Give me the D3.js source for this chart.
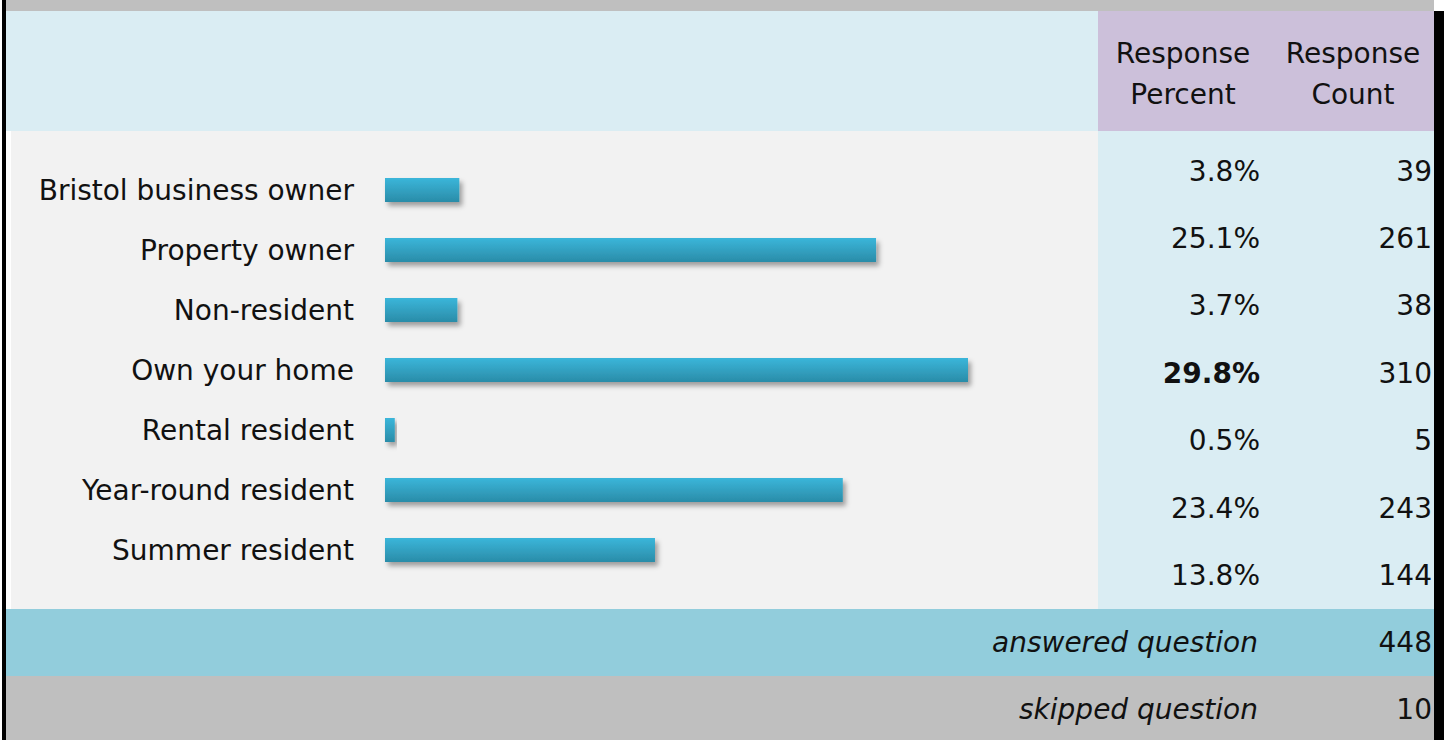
<!DOCTYPE html>
<html>
<head>
<meta charset="utf-8">
<script src="https://cdn.jsdelivr.net/npm/d3@7"></script>
<style>
  body { margin: 0; background: #fff; }
  svg text { font-family: "DejaVu Sans", sans-serif; fill: #111; }
</style>
</head>
<body>
<div id="chart"></div>
<script>
// Data
const categories = ['Bristol business owner', 'Property owner', 'Non-resident',
  'Own your home', 'Rental resident', 'Year-round resident', 'Summer resident'];
const percents = [3.8, 25.1, 3.7, 29.8, 0.5, 23.4, 13.8];
const counts = [39, 261, 38, 310, 5, 243, 144];
const headers = [['Response', 'Percent'], ['Response', 'Count']];
const answered = 448;
const skipped = 10;

// Dimensions
const width = 1450;
const height = 740;
const fontSize = 28;

const svg = d3.select('#chart')
  .append('svg')
    .attr('width', width)
    .attr('height', height)

// Defs: gradient + shadow
const defs = svg.append('defs');
const grad = defs.append('linearGradient')
  .attr('id', 'barGrad')
  .attr('x1', 0).attr('y1', 0).attr('x2', 0).attr('y2', 1)
grad.append('stop').attr('offset', '0%').attr('stop-color', '#3bb6da')
grad.append('stop').attr('offset', '100%').attr('stop-color', '#2a8ca8')
const shadow = defs.append('filter')
  .attr('id', 'shadow')
  .attr('x', '-10%').attr('y', '-30%').attr('width', '130%').attr('height', '200%')
shadow.append('feDropShadow')
  .attr('dx', 3).attr('dy', 4)
  .attr('stdDeviation', 2.5)
  .attr('flood-color', '#000')
  .attr('flood-opacity', 0.35)

// Background panels
const bg = svg.append('g');
bg.append('rect').attr('x', 2).attr('y', 0).attr('width', 1432).attr('height', 11).attr('fill', '#bfbfbf')
bg.append('rect').attr('x', 6).attr('y', 11).attr('width', 1092).attr('height', 120).attr('fill', '#daedf3')
bg.append('rect').attr('x', 1098).attr('y', 11).attr('width', 336).attr('height', 120).attr('fill', '#ccc0da')
bg.append('rect').attr('x', 11).attr('y', 131).attr('width', 1087).attr('height', 478).attr('fill', '#f2f2f2')
bg.append('rect').attr('x', 1098).attr('y', 131).attr('width', 336).attr('height', 478).attr('fill', '#daedf3')
bg.append('rect').attr('x', 6).attr('y', 609).attr('width', 1428).attr('height', 67).attr('fill', '#92cddc')
bg.append('rect').attr('x', 6).attr('y', 676).attr('width', 1428).attr('height', 64).attr('fill', '#bfbfbf')
// borders
bg.append('rect').attr('x', 2).attr('y', 0).attr('width', 4).attr('height', height).attr('fill', '#000')
bg.append('rect').attr('x', 1434).attr('y', 11).attr('width', 10).attr('height', height - 11).attr('fill', '#000')

// Scales
const scaleX = d3.scaleLinear()
  .domain([0, 29.8])
  .range([385, 968])
const scaleY = d3.scaleBand()
  .domain(categories)
  .range([160, 580])
  .paddingInner(0.6)
  .paddingOuter(0.3)
const tableY = d3.scaleBand()
  .domain(categories)
  .range([137, 609])

// Bars
svg.append('g')
  .selectAll('rect')
  .data(categories)
  .join('rect')
    .attr('x', scaleX(0))
    .attr('y', (d) => scaleY(d))
    .attr('width', (d, i) => scaleX(percents[i]) - scaleX(0))
    .attr('height', scaleY.bandwidth())
    .attr('fill', 'url(#barGrad)')
    .attr('filter', 'url(#shadow)')

// Category labels
svg.append('g')
  .selectAll('text')
  .data(categories)
  .join('text')
    .attr('x', 354)
    .attr('y', (d) => scaleY(d) + scaleY.bandwidth() / 2)
    .attr('dy', '0.35em')
    .attr('text-anchor', 'end')
    .attr('font-size', fontSize)
    .text((d) => d)

// Header
const headerX = [1183, 1353];
headers.forEach((lines, i) => {
  const t = svg.append('text')
    .attr('text-anchor', 'middle')
    .attr('font-size', fontSize)
  lines.forEach((line, j) => {
    t.append('tspan')
      .attr('x', headerX[i])
      .attr('y', 63 + j * 41)
      .text(line)
  })
})

// Table values
const maxPct = d3.max(percents);
svg.append('g')
  .selectAll('text')
  .data(categories)
  .join('text')
    .attr('x', 1260)
    .attr('y', (d) => tableY(d) + tableY.bandwidth() / 2)
    .attr('dy', '0.35em')
    .attr('text-anchor', 'end')
    .attr('font-size', fontSize)
    .attr('font-weight', (d, i) => percents[i] === maxPct ? 'bold' : 'normal')
    .text((d, i) => percents[i].toFixed(1) + '%')
svg.append('g')
  .selectAll('text')
  .data(categories)
  .join('text')
    .attr('x', 1432)
    .attr('y', (d) => tableY(d) + tableY.bandwidth() / 2)
    .attr('dy', '0.35em')
    .attr('text-anchor', 'end')
    .attr('font-size', fontSize)
    .text((d, i) => counts[i])

// Footer rows
const footer = [['answered question', answered, 642], ['skipped question', skipped, 709]];
footer.forEach(([label, value, y]) => {
  svg.append('text')
    .attr('x', 1258).attr('y', y).attr('dy', '0.35em')
    .attr('text-anchor', 'end')
    .attr('font-size', fontSize)
    .attr('font-style', 'italic')
    .text(label)
  svg.append('text')
    .attr('x', 1432).attr('y', y).attr('dy', '0.35em')
    .attr('text-anchor', 'end')
    .attr('font-size', fontSize)
    .text(value)
})
</script>
</body>
</html>
